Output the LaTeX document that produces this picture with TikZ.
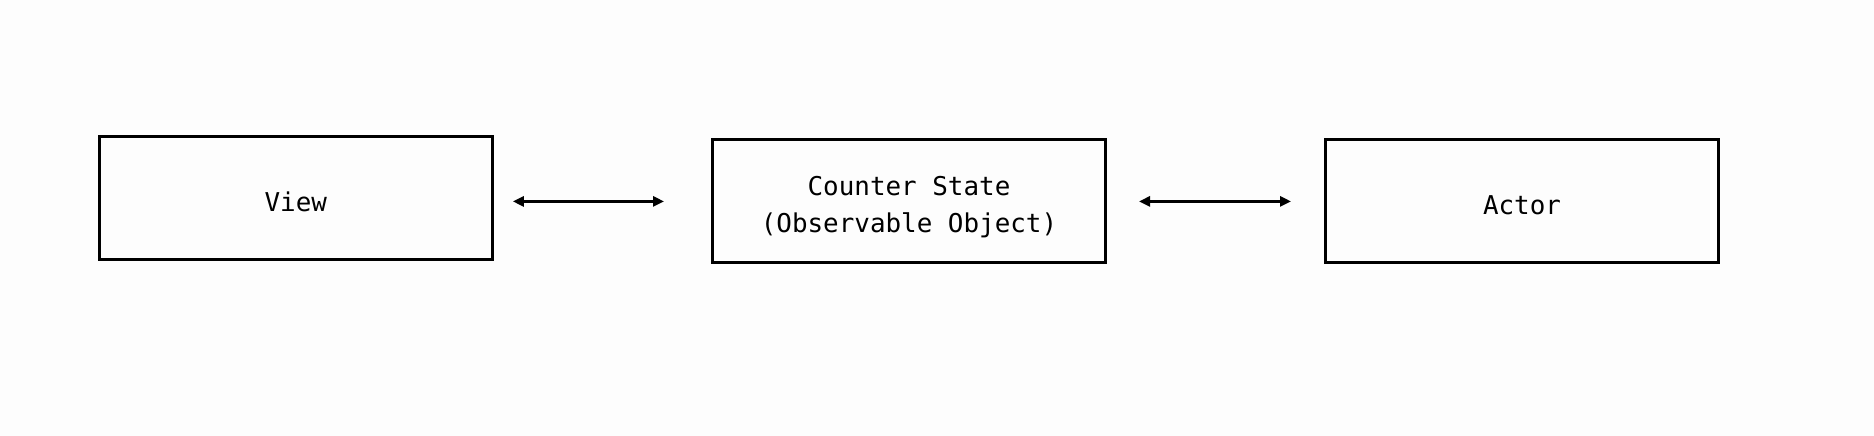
\documentclass[tikz,border=0pt]{standalone}
\usepackage{fontspec}
\setmonofont{DejaVu Sans Mono}
\definecolor{ink}{HTML}{000000}
\definecolor{paper}{HTML}{FDFDFD}
\usetikzlibrary{arrows.meta}

\begin{document}
\begin{tikzpicture}[x=1bp,y=1bp,>={Triangle[length=11bp,width=10bp]},every node/.style={font=\ttfamily\fontsize{26}{37}\selectfont}]
\fill[paper] (0,0) rectangle (1874,436);
\useasboundingbox (0,0) rectangle (1874,436);
\tikzset{block/.style={draw=ink,line width=3bp,rectangle,minimum width=393bp,minimum height=123bp,align=center,inner sep=0pt,text height=26.5bp,text depth=0pt}}
\node[block] (V) at (295.8,238.2) {View};
\node[block,text height=68bp,text depth=6bp] (S) at (909,234.6) {Counter State\\(Observable Object)};
\node[block] (A) at (1522,234.6) {Actor};
\draw[<->,ink,line width=2.6bp,shorten <=19bp,shorten >=47bp] (V.east |- S.west) -- (S.west);
\draw[<->,ink,line width=2.6bp,shorten <=32bp,shorten >=33bp] (S.east) -- (A.west);
\end{tikzpicture}
\end{document}
